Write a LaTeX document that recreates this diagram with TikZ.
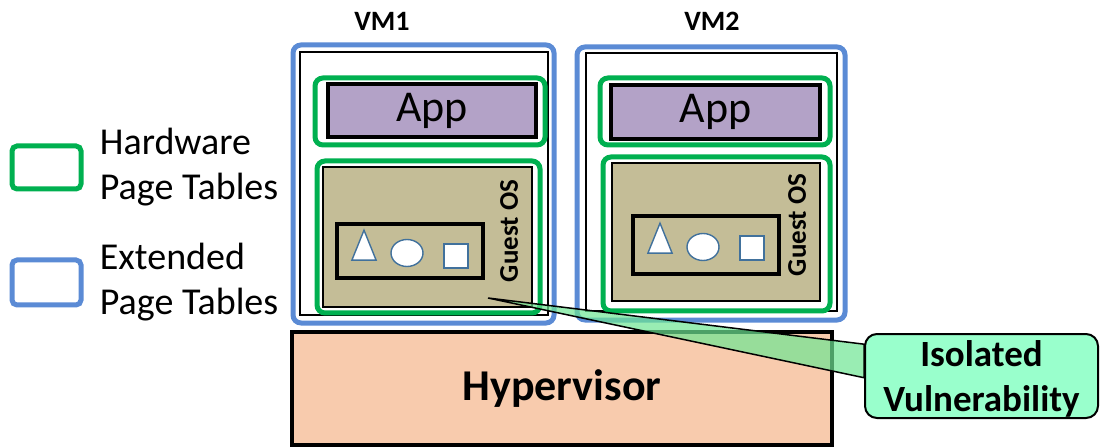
\documentclass[tikz,border=0pt]{standalone}
\usepackage{fontspec}
\setmainfont{Carlito}
\usepackage{tikz}
\usetikzlibrary{shapes.geometric, positioning, fit, calc}

\definecolor{eptblue}{HTML}{5B8BD5}
\definecolor{hwgreen}{HTML}{00B050}
\definecolor{appviolet}{HTML}{B3A2C7}
\definecolor{ostan}{HTML}{C4BD97}
\definecolor{hvpeach}{HTML}{F8CBAD}
\definecolor{calloutmint}{HTML}{99FFCC}
\definecolor{objblue}{HTML}{41719C}

\pgfdeclarelayer{front}
\pgfsetlayers{main,front}

\begin{document}
\begin{tikzpicture}[
  x=0.5pt, y=-0.5pt,
  ept/.style    = {draw=eptblue, line width=2.5pt, rounded corners=4pt,
                   inner sep=0pt},
  hwpt/.style   = {draw=hwgreen, line width=2.5pt, rounded corners=4pt,
                   inner sep=0pt},
  legbox/.style = {line width=2.5pt, rounded corners=2.5pt, inner sep=0pt},
  vmframe/.style= {draw=black, line width=0.75pt, fill=white, inner sep=0pt},
  appbox/.style = {draw=black, line width=2pt, fill=appviolet, inner sep=0pt},
  apptxt/.style = {font=\fontsize{22}{26}\selectfont},
  osbox/.style  = {draw=black, line width=0.6pt, fill=ostan, inner sep=0pt},
  kbox/.style   = {draw=black, line width=2pt, inner sep=0pt},
  tri/.style    = {isosceles triangle, isosceles triangle apex angle=44,
                   shape border rotate=90, draw=objblue, fill=white,
                   line width=0.7pt, inner sep=0pt, minimum height=15pt},
  circ/.style   = {ellipse, draw=objblue, fill=white, line width=0.7pt,
                   inner sep=0pt, minimum width=16pt, minimum height=13.5pt},
  sq/.style     = {rectangle, draw=objblue, fill=white, line width=0.7pt,
                   inner sep=0pt, minimum size=12pt},
  oslbl/.style  = {rotate=90, font=\fontsize{13.5}{16}\selectfont\bfseries},
  vmlbl/.style  = {font=\fontsize{14}{16}\selectfont\bfseries},
  legtxt/.style = {align=left, inner sep=0pt,
                   font=\fontsize{19}{22.5}\selectfont},
  hyper/.style  = {draw=black, line width=2pt, fill=hvpeach, inner sep=0pt},
  hypertxt/.style={font=\fontsize{22}{26}\selectfont\bfseries},
  callout/.style= {draw=black, line width=1pt, fill=calloutmint,
                   rounded corners=6pt, inner sep=0pt},
  callouttxt/.style={align=center, font=\fontsize{18.5}{22.5}\selectfont\bfseries}
]
\useasboundingbox (0,0) rectangle (1101,448);

% ===================== LEGEND =====================
\node[legbox, draw=hwgreen, fit={(12,146) (81,189)}] (leghw) {};
\node[legtxt, right=8pt of leghw] (leghwtxt) {Hardware\\Page Tables};
\node[legbox, draw=eptblue, fit={(12,260) (81,305)}] (legept) {};
\node[legtxt, right=8pt of legept] (legepttxt) {Extended\\Page Tables};

% ===================== VM1 =====================
\node[vmlbl] (vm1lbl) at (382,21) {VM1};
\node[ept, fit={(293,45) (554,323)}] (vm1) {};
\node[vmframe, fit={(300,52) (548,315)}] (vm1in) {};
\node[hwpt, fit={(315,78) (545,145)}] (app1pt) {};
\node[appbox, fit={(328,84) (536,137)}] (app1) {};
\node[apptxt] (app1txt) at (app1) {App};
\node[hwpt, fit={(317,161) (540,313)}] (os1pt) {};
\node[osbox, fit={(323,167) (532,307)}] (os1) {};
\node[oslbl] (os1lbl) at (509,231) {Guest OS};
\node[kbox, fit={(337,224) (483,278)}] (k1) {};
\node[tri] (tri1) at (364,252) {};
\node[circ] (circ1) at (407,253) {};
\node[sq] (sq1) at (456,256) {};

% ===================== VM2 =====================
\node[vmlbl] (vm2lbl) at (712,21) {VM2};
\node[ept, fit={(577,47) (845,320)}] (vm2) {};
\node[vmframe, fit={(586,53) (837,311)}] (vm2in) {};
\node[hwpt, fit={(600,78) (830,145)}] (app2pt) {};
\node[appbox, fit={(611,85) (820,139)}] (app2) {};
\node[apptxt] (app2txt) at (app2) {App};
\node[hwpt, fit={(603,157) (830,311)}] (os2pt) {};
\node[osbox, fit={(612,163) (820,301)}] (os2) {};
\node[oslbl] (os2lbl) at (797,225) {Guest OS};
\node[kbox, fit={(633,216) (779,274)}] (k2) {};
\node[tri] (tri2) at (660,245) {};
\node[circ] (circ2) at (703,247) {};
\node[sq] (sq2) at (752,248) {};

% ===================== HYPERVISOR =====================
\node[hyper, fit={(292,332) (832,445)}] (hv) {};
\node[hypertxt] (hvtxt) at (hv) {Hypervisor};

% ===================== CALLOUT =====================
\begin{pgfonlayer}{front}
\node[callout, fit={(865,334) (1098,418)}] (vuln) {};
\node[callouttxt, yshift=-1.5pt] (vulntxt) at (vuln) {Isolated\\Vulnerability};
\end{pgfonlayer}
\coordinate (bug) at (488,298);
\coordinate (ctop) at ($(vuln.north west)!0.13!(vuln.south west)$);
\coordinate (cbot) at ($(vuln.north west)!0.52!(vuln.south west)$);
\draw[line width=0.75pt, fill=calloutmint!80!green!90!black, fill opacity=0.7]
  (bug) -- (ctop) -- (cbot) -- cycle;

\end{tikzpicture}
\end{document}
